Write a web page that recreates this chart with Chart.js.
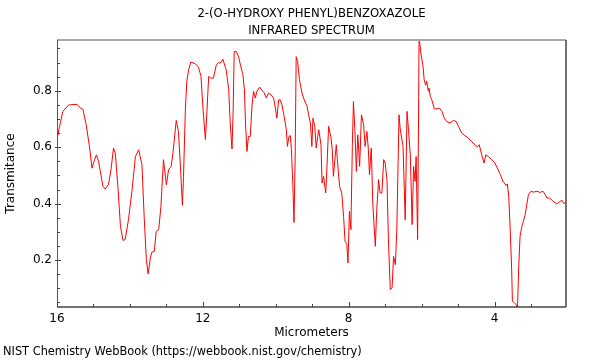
<!DOCTYPE html>
<html>
<head>
<meta charset="utf-8">
<script src="https://cdn.jsdelivr.net/npm/chart.js@4"></script>
<style>
html,body{margin:0;padding:0;background:#fff;}
#wrap{width:600px;height:360px;}
</style>
</head>
<body>
<div id="wrap"><canvas id="c" width="600" height="360"></canvas></div>
<script>
const titleLines = ["2-(O-HYDROXY PHENYL)BENZOXAZOLE", "INFRARED SPECTRUM"];
const footerText = "NIST Chemistry WebBook (https://webbook.nist.gov/chemistry)";
const xTitle = "Micrometers";
const yTitle = "Transmitance";
const xMajorTicks = [16, 12, 8, 4];
const yMajorTicks = [0.2, 0.4, 0.6, 0.8];

const wavelength = [
16.0,15.93,15.84,15.68,15.45,15.36,15.29,15.2,15.11,15.04,15.0,14.92,14.86,14.74,14.68,14.59,14.52,14.45,14.4,14.33,
14.26,14.19,14.13,14.04,13.94,13.85,13.76,13.67,13.61,13.55,13.5,13.44,13.4,13.33,13.28,13.21,13.15,13.08,13.0,12.94,
12.87,12.82,12.73,12.67,12.62,12.56,12.53,12.48,12.44,12.39,12.33,12.21,12.12,12.05,12.0,11.93,11.89,11.84,11.78,11.71,
11.63,11.57,11.52,11.45,11.39,11.36,11.29,11.25,11.2,11.17,11.14,11.08,11.02,10.97,10.9,10.86,10.83,10.79,10.75,10.7,
10.65,10.61,10.56,10.52,10.44,10.38,10.32,10.26,10.2,10.13,10.06,10.01,9.97,9.92,9.88,9.83,9.77,9.71,9.68,9.64,
9.6,9.57,9.53,9.5,9.47,9.44,9.4,9.35,9.28,9.22,9.14,9.1,9.05,9.01,8.98,8.93,8.89,8.85,8.82,8.76,
8.73,8.69,8.63,8.6,8.55,8.49,8.45,8.42,8.37,8.34,8.31,8.25,8.19,8.14,8.1,8.05,8.02,7.98,7.94,7.9,
7.87,7.83,7.79,7.75,7.7,7.65,7.59,7.55,7.5,7.46,7.43,7.38,7.34,7.27,7.23,7.18,7.14,7.09,7.04,7.0,
6.95,6.91,6.86,6.81,6.77,6.72,6.68,6.62,6.59,6.51,6.45,6.4,6.36,6.31,6.26,6.22,6.18,6.15,6.11,6.08,
6.07,6.02,5.96,5.93,5.89,5.86,5.82,5.8,5.76,5.72,5.65,5.58,5.51,5.44,5.38,5.31,5.23,5.12,5.05,4.99,
4.9,4.81,4.72,4.63,4.54,4.47,4.42,4.35,4.29,4.24,4.17,4.08,3.99,3.9,3.84,3.77,3.68,3.65,3.61,3.57,
3.53,3.51,3.45,3.41,3.37,3.34,3.3,3.25,3.21,3.16,3.11,3.07,3.0,2.93,2.84,2.75,2.67,2.61,2.56,2.49,
2.42,2.33,2.27,2.2,2.15,2.11,2.04
];
const transmittance = [
0.627,0.674,0.727,0.750,0.752,0.739,0.735,0.68,0.603,0.526,0.544,0.573,0.55,0.461,0.452,0.467,0.52,0.597,0.579,0.461,
0.32,0.27,0.273,0.343,0.45,0.567,0.591,0.538,0.355,0.202,0.151,0.208,0.228,0.231,0.302,0.308,0.39,0.556,0.467,0.52,
0.532,0.579,0.695,0.656,0.544,0.394,0.497,0.733,0.833,0.874,0.902,0.896,0.884,0.851,0.744,0.627,0.721,0.851,0.845,0.845,
0.892,0.9,0.898,0.912,0.886,0.874,0.804,0.686,0.594,0.721,0.939,0.939,0.921,0.892,0.857,0.804,0.686,0.585,0.638,0.638,
0.75,0.798,0.774,0.798,0.813,0.801,0.794,0.774,0.792,0.786,0.774,0.739,0.703,0.768,0.768,0.75,0.709,0.662,0.603,0.638,
0.641,0.591,0.461,0.334,0.544,0.921,0.904,0.839,0.792,0.768,0.744,0.715,0.686,0.603,0.703,0.674,0.597,0.638,0.662,0.609,
0.473,0.497,0.438,0.52,0.674,0.638,0.591,0.497,0.567,0.609,0.556,0.461,0.438,0.355,0.267,0.255,0.19,0.373,0.308,0.603,
0.762,0.662,0.514,0.644,0.532,0.715,0.68,0.603,0.656,0.591,0.503,0.597,0.403,0.249,0.379,0.485,0.438,0.438,0.556,0.544,
0.485,0.273,0.096,0.102,0.213,0.184,0.308,0.715,0.668,0.603,0.343,0.727,0.662,0.573,0.326,0.532,0.479,0.567,0.273,0.78,
0.99,0.933,0.886,0.839,0.82,0.835,0.80,0.81,0.78,0.768,0.736,0.736,0.739,0.727,0.703,0.691,0.686,0.695,0.691,0.674,
0.65,0.641,0.633,0.62,0.609,0.601,0.609,0.573,0.544,0.573,0.567,0.556,0.544,0.52,0.503,0.479,0.464,0.47,0.426,0.308,
0.166,0.054,0.048,0.043,0.03,0.166,0.284,0.32,0.337,0.361,0.402,0.432,0.444,0.441,0.444,0.44,0.444,0.432,0.42,0.42,
0.412,0.402,0.4,0.408,0.412,0.402,0.402
];

const FONT = "'DejaVu Sans', sans-serif";
const points = wavelength.map((w, i) => ({x: w, y: transmittance[i]}));

const framePlugin = {
  id: 'frame',
  afterDraw(chart) {
    const ctx = chart.ctx;
    const a = chart.chartArea;
    const xs = chart.scales.x, ys = chart.scales.y;
    ctx.save();
    ctx.strokeStyle = '#a8a8a8'; ctx.lineWidth = 2;
    ctx.beginPath(); ctx.moveTo(a.left, a.top); ctx.lineTo(a.right, a.top); ctx.stroke();
    ctx.strokeStyle = '#444'; ctx.lineWidth = 1.5;
    ctx.beginPath(); ctx.moveTo(a.right, a.top); ctx.lineTo(a.right, a.bottom); ctx.stroke();
    ctx.beginPath(); ctx.moveTo(a.left, a.bottom); ctx.lineTo(a.right, a.bottom); ctx.stroke();
    ctx.strokeStyle = '#555'; ctx.lineWidth = 1;
    ctx.beginPath(); ctx.moveTo(a.left + 0.5, a.top); ctx.lineTo(a.left + 0.5, a.bottom); ctx.stroke();
    ctx.strokeStyle = '#444'; ctx.lineWidth = 1;
    for (let v = 3; v <= 16; v++) {
      const px = Math.round(xs.getPixelForValue(v)) + 0.5;
      const len = (v % 4 === 0) ? 5 : 3;
      ctx.beginPath(); ctx.moveTo(px, a.bottom); ctx.lineTo(px, a.bottom - len); ctx.stroke();
    }
    for (let k = 1; k <= 19; k++) {
      const v = k * 0.05;
      const py = Math.round(ys.getPixelForValue(v)) + 0.5;
      const major = (k % 4 === 0);
      ctx.beginPath();
      ctx.moveTo(a.left - (major ? 2 : 0), py);
      ctx.lineTo(a.left + (major ? 4 : 3), py);
      ctx.stroke();
    }
    ctx.fillStyle = '#000';
    ctx.font = "11.7px " + FONT;
    ctx.textAlign = 'center'; ctx.textBaseline = 'middle';
    const cx = (a.left + a.right) / 2;
    ctx.fillText(titleLines[0], cx, 13.5);
    ctx.fillText(titleLines[1], cx, 30.5);
    ctx.font = "11.4px " + FONT;
    ctx.textAlign = 'left';
    ctx.fillText(footerText, 3, 352);
    ctx.restore();
  }
};

new Chart(document.getElementById('c'), {
  type: 'line',
  data: {
    datasets: [{
      data: points,
      borderColor: 'rgb(255,0,0)',
      borderWidth: 1,
      pointRadius: 0,
      tension: 0,
      fill: false
    }]
  },
  options: {
    responsive: false,
    animation: false,
    layout: {padding: {top: 40, right: 34, left: 0, bottom: 20}},
    plugins: {legend: {display: false}, tooltip: {enabled: false}, title: {display: false}},
    scales: {
      x: {
        type: 'linear',
        reverse: true,
        min: 2.04, max: 16,
        afterFit(s) { s.height = 33; },
        afterBuildTicks(s) { s.ticks = xMajorTicks.map(v => ({value: v})); },
        grid: {display: false, drawTicks: false},
        border: {display: false},
        ticks: {padding: 5, color: '#000', font: {family: FONT, size: 12}, maxRotation: 0, callback: v => String(v)},
        title: {display: true, text: xTitle, color: '#000', font: {family: FONT, size: 12}, padding: {top: 0, bottom: 0}}
      },
      y: {
        type: 'linear',
        min: 0.034, max: 0.98,
        afterFit(s) { s.width = 57; },
        afterBuildTicks(s) { s.ticks = yMajorTicks.map(v => ({value: v})); },
        grid: {display: false, drawTicks: false},
        border: {display: false},
        ticks: {padding: 5, color: '#000', font: {family: FONT, size: 12}, callback: v => v.toFixed(1)},
        title: {display: true, text: yTitle, color: '#000', font: {family: FONT, size: 12}, padding: {top: 4, bottom: 0}}
      }
    }
  },
  plugins: [framePlugin]
});
</script>
</body>
</html>
